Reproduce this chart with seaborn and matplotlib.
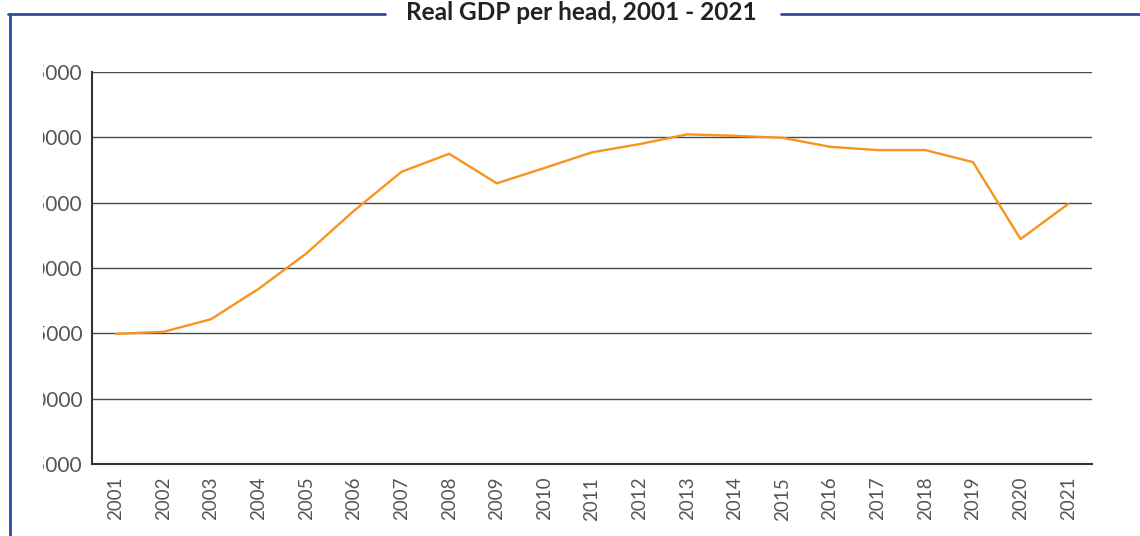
import matplotlib
matplotlib.use("Agg")
import matplotlib.pyplot as plt
import seaborn as sns
import pandas as pd
from matplotlib.lines import Line2D
from matplotlib.ticker import FixedLocator
from matplotlib.transforms import Bbox, TransformedBbox

# values
years = list(range(2001, 2022))
gdp_per_head = [24970, 25120, 26090, 28410, 31110, 34370, 37350, 38730, 36470, 37640,
                38840, 39470, 40210, 40100, 39950, 39260, 39010, 39010, 38090, 32210, 34890]
y_ticks = [15000, 20000, 25000, 30000, 35000, 40000, 45000]
title = "Real GDP per head, 2001 - 2021"

W, H = 1140, 536

sns.set_style("white")
plt.rcParams["font.family"] = ["Lato", "DejaVu Sans"]

df = pd.DataFrame({"year": years, "gdp": gdp_per_head})

fig = plt.figure(figsize=(W / 100, H / 100), dpi=100)
ax = fig.add_axes([92 / W, 1 - 464.3 / H, 1000 / W, (464.3 - 71.7) / H])

sns.lineplot(data=df, x="year", y="gdp", ax=ax, color="#f7941d", linewidth=1.7, zorder=3)

ax.set_xlim(years[0] - 0.5, years[-1] + 0.5)
ax.set_ylim(y_ticks[0], y_ticks[-1])
ax.set_xlabel("")
ax.set_ylabel("")

# category labels at centres, tick marks at the boundaries
ax.xaxis.set_major_locator(FixedLocator(years))
ax.set_xticklabels([str(y) for y in years], rotation=90)
ax.xaxis.set_minor_locator(FixedLocator([y - 0.5 for y in years] + [years[-1] + 0.5]))
ax.tick_params(axis="x", which="major", length=0, pad=9, labelsize=13.5, labelcolor="#555555")
ax.tick_params(axis="x", which="minor", direction="in", length=9, width=1.4, color="#333333")

ax.yaxis.set_major_locator(FixedLocator(y_ticks))
ax.set_yticklabels([f"{v:d}" for v in y_ticks])
ax.tick_params(axis="y", length=0, pad=7, labelsize=15, labelcolor="#555555")
ax.yaxis.grid(True, color="#4a4a4a", linewidth=1.0)

for side in ["top", "right"]:
    ax.spines[side].set_visible(False)
for side in ["left", "bottom"]:
    ax.spines[side].set_color("#333333")
    ax.spines[side].set_linewidth(1.5)

# the reference crops the y labels: only "000" and a sliver of the digit before show
fig.canvas.draw()
ext = ax.get_yticklabels()[0].get_window_extent()
digit_w = ext.width / 5
clip_x = ext.x0 + digit_w * 1.8
clip = TransformedBbox(Bbox([[clip_x / W, 0], [1, 1]]), fig.transFigure)
for lab in ax.get_yticklabels():
    lab.set_clip_on(True)
    lab.set_clip_box(clip)

# blue frame with the title breaking the top line
blue = "#2b4ea2"
ytop = 1 - 13.5 / H
fig.add_artist(Line2D([8 / W, 385 / W], [ytop, ytop], color=blue, lw=2, transform=fig.transFigure))
fig.add_artist(Line2D([781 / W, 1], [ytop, ytop], color=blue, lw=2, transform=fig.transFigure))
fig.add_artist(Line2D([10 / W, 10 / W], [ytop, 0], color=blue, lw=2, transform=fig.transFigure))
fig.text(581 / W, 1 - 12.5 / H, title, ha="center", va="center", fontsize=17.6,
         fontweight="bold", family=["Lato", "DejaVu Sans"], color="#222222")

fig.savefig("out.png", dpi=100)
